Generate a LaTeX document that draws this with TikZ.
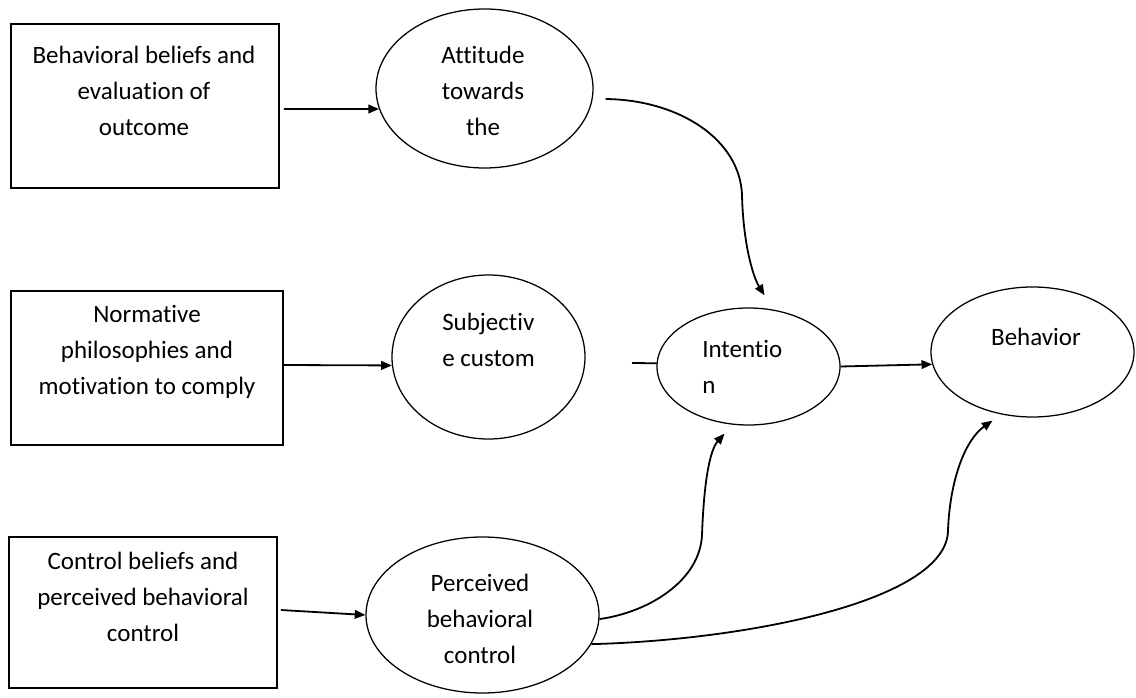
\documentclass[tikz,border=0pt]{standalone}
\usepackage{fontspec}
\setmainfont[Ligatures={CommonOff}]{Carlito}
\usetikzlibrary{shapes.geometric,arrows.meta,calc}
\begin{document}
\begin{tikzpicture}[x=0.75pt,y=-0.75pt,
  box/.style={draw,line width=1.3pt,rectangle,inner sep=0pt},
  oval/.style={draw,line width=0.95pt,ellipse,inner sep=0pt},
  txt/.style={font=\fontsize{18.75pt}{27pt}\selectfont,align=center,inner sep=0pt},
  conn/.style={line width=1.35pt},
  arr/.style={conn,-{Triangle[length=8pt,width=6.5pt]}}]
\useasboundingbox (0,0) rectangle (1136,698);
% boxes
\node[box,minimum width=201pt,minimum height=123pt] (b1) at (145,106) {};
\node[box,minimum width=204pt,minimum height=115.5pt] (b2) at (147,368) {};
\node[box,minimum width=201pt,minimum height=113.25pt] (b3) at (143,612.5) {};
% ellipses
\node[oval,minimum width=162.75pt,minimum height=119.25pt] (att) at (484.5,88.5) {};
\node[oval,minimum width=144.75pt,minimum height=123pt] (sub) at (488.5,357) {};
\node[oval,minimum width=137.25pt,minimum height=87.75pt] (int) at (748.5,366.5) {};
\node[oval,minimum width=152.25pt,minimum height=97.5pt] (beh) at (1032.5,352) {};
\node[oval,minimum width=174.75pt,minimum height=117pt] (perc) at (482.5,615) {};
% texts
\node[txt] (b1t) at (144,91) {Behavioral beliefs and\\evaluation of\\outcome};
\node[txt] (b2t) at (147,352) {Normative\\philosophies and\\motivation to comply};
\node[txt] (b3t) at (143,597) {Control beliefs and\\perceived behavioral\\control};
\node[txt] (attt) at (483,91) {Attitude\\towards\\the};
\node[txt,align=left,anchor=west] (subt) at (442,340) {Subjectiv\\e custom};
\node[txt,align=left,anchor=west] (intt) at (702,366.5) {Intentio\\n};
\node[txt] (beht) at (1036,337) {Behavior};
\node[txt] (perct) at (480,619) {Perceived\\behavioral\\control};
% straight connectors
\draw[arr] ($(b1.east)+(4,3)$) -- (att.191);
\draw[arr] ($(b2.east)+(0,-3)$) -- (sub.185);
\draw[arr] ($(b3.east)+(3,-2.5)$) -- (perc.west);
\coordinate (stub) at (632,363);
\draw[conn] (stub) -- (int.178);
\draw[arr] (int.east) -- (beh.187);
% curved connectors
\draw[arr] ($(att.east)+(12,10.5)$) .. controls (680,100) and (740,140) .. (742,195)
  .. controls (743,240) and (752,275) .. ($(int.north)+(16,-12)$);
\draw[arr] (perc.358) .. controls (650,612) and (700,580) .. (702,535)
  .. controls (704,480) and (710,450) .. ($(int.south)+(-24,8)$);
\draw[arr] (perc.345) .. controls (750,640) and (948,600) .. (948,530)
  .. controls (950,480) and (965,440) .. ($(beh.south)+(-40,3)$);
\end{tikzpicture}
\end{document}
